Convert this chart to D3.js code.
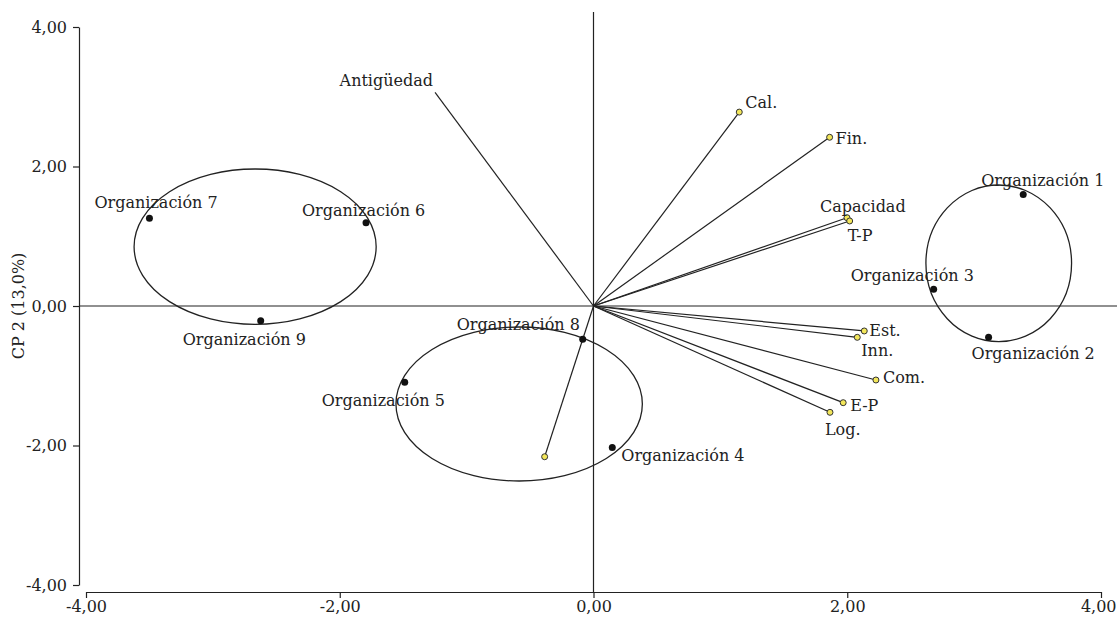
<!DOCTYPE html>
<html>
<head>
<meta charset="utf-8">
<script src="https://cdn.jsdelivr.net/npm/d3@7/dist/d3.min.js"></script>
<style>
  html, body { margin: 0; padding: 0; background: #fff; }
  svg { display: block; }
  text { font-family: "DejaVu Serif", Georgia, serif; fill: #222; }
</style>
</head>
<body>
<svg id="chart" width="1117" height="618"></svg>
<script>
// Biplot: organisations (scores) and variables (loadings) on CP 1 / CP 2

const orgNames = ["Organización 1", "Organización 2", "Organización 3", "Organización 4",
  "Organización 5", "Organización 6", "Organización 7", "Organización 8", "Organización 9"];
const orgX = [3.387, 3.114, 2.681, 0.148, -1.488, -1.793, -3.500, -0.085, -2.623];
const orgY = [1.600, -0.449, 0.239, -2.030, -1.094, 1.194, 1.257, -0.477, -0.211];

const varNames = ["Cal.", "Fin.", "Capacidad", "T-P", "Est.", "Inn.", "Com.", "E-P", "Log.", "", "Antigüedad"];
const varX = [1.149, 1.861, 1.998, 2.019, 2.134, 2.079, 2.226, 1.968, 1.864, -0.385, -1.249];
const varY = [2.780, 2.419, 1.266, 1.219, -0.358, -0.449, -1.061, -1.386, -1.524, -2.161, 3.064];
// variables drawn with an end marker
const varMarked = [true, true, true, true, true, true, true, true, true, true, false];

// group ellipses (centre and semi-axes, in component units)
const groupCx = [3.194, -0.586, -2.667];
const groupCy = [0.612, -1.405, 0.850];
const groupRx = [0.574, 0.971, 0.954];
const groupRy = [1.123, 1.104, 1.114];

const tickValues = [-4, -2, 0, 2, 4];
const tickLabels = ["-4,00", "-2,00", "0,00", "2,00", "4,00"];
const yTitle = "CP 2 (13,0%)";

// label placement relative to each mark (pixels)
const orgLabelPos = [
  [-42, -8], [-17, 22], [-83, -8], [9, 13], [-83, 24],
  [-64, -7], [-55, -10], [-126, -9], [-78, 24]
];
const varLabelPos = [
  [6, -4, "start"], [6, 7, "start"], [-27, -6, "start"], [-2, 20, "start"],
  [5, 5, "start"], [4, 19, "start"], [7, 3, "start"], [7, 8, "start"],
  [-5, 23, "start"], [0, 0, "start"], [-2, -6, "end"]
];

const svg = d3.select("#chart");
const FS = 16;

const x = d3.scaleLinear().domain([-4, 4]).range([86, 1101]);
const y = d3.scaleLinear().domain([-4, 4]).range([585, 27]);
const fmt = v => tickLabels[tickValues.indexOf(v)];

const axisLeftX = 79, axisBottomY = 592;

// reference lines through the origin
svg.append("line")
  .attr("x1", x(0)).attr("x2", x(0))
  .attr("y1", 12).attr("y2", axisBottomY)
  .attr("stroke", "#222").attr("stroke-width", 1.2);
svg.append("line")
  .attr("x1", axisLeftX).attr("x2", 1117)
  .attr("y1", y(0)).attr("y2", y(0))
  .attr("stroke", "#222").attr("stroke-width", 1.2);

// axes
const yAxis = svg.append("g")
  .attr("transform", `translate(${axisLeftX},0)`)
  .call(d3.axisLeft(y).tickValues(tickValues).tickFormat(fmt).tickSize(6).tickSizeOuter(0).tickPadding(6));
const xAxis = svg.append("g")
  .attr("transform", `translate(0,${axisBottomY})`)
  .call(d3.axisBottom(x).tickValues(tickValues).tickFormat(fmt).tickSize(6).tickSizeOuter(0).tickPadding(3));
[yAxis, xAxis].forEach(g => {
  g.selectAll("path, line").attr("stroke", "#222").attr("stroke-width", 1.2);
  g.selectAll("text").attr("font-family", "DejaVu Serif").attr("font-size", FS).attr("fill", "#222");
});
// keep the last x tick label inside the page edge
xAxis.selectAll(".tick").filter(d => d === 4).select("text")
  .attr("text-anchor", "end").attr("dx", 15);

svg.append("text")
  .attr("transform", `translate(24,${y(0)}) rotate(-90)`)
  .attr("text-anchor", "middle")
  .attr("font-size", FS)
  .text(yTitle);

// group ellipses
svg.append("g").selectAll("ellipse")
  .data(groupCx.map((c, i) => i))
  .join("ellipse")
  .attr("cx", i => x(groupCx[i]))
  .attr("cy", i => y(groupCy[i]))
  .attr("rx", i => x(groupRx[i]) - x(0))
  .attr("ry", i => y(0) - y(groupRy[i]))
  .attr("fill", "none")
  .attr("stroke", "#222")
  .attr("stroke-width", 1.3);

// variable vectors
const vIdx = varNames.map((n, i) => i);
svg.append("g").selectAll("line")
  .data(vIdx)
  .join("line")
  .attr("x1", x(0)).attr("y1", y(0))
  .attr("x2", i => x(varX[i])).attr("y2", i => y(varY[i]))
  .attr("stroke", "#222").attr("stroke-width", 1.2);

svg.append("g").selectAll("circle")
  .data(vIdx.filter(i => varMarked[i]))
  .join("circle")
  .attr("cx", i => x(varX[i])).attr("cy", i => y(varY[i]))
  .attr("r", 3)
  .attr("fill", "#f2e65a")
  .attr("stroke", "#333").attr("stroke-width", 1);

svg.append("g").selectAll("text")
  .data(vIdx.filter(i => varNames[i] !== ""))
  .join("text")
  .attr("x", i => x(varX[i]) + varLabelPos[i][0])
  .attr("y", i => y(varY[i]) + varLabelPos[i][1])
  .attr("text-anchor", i => varLabelPos[i][2])
  .attr("font-size", FS)
  .text(i => varNames[i]);

// organisation scores
const oIdx = orgNames.map((n, i) => i);
svg.append("g").selectAll("circle")
  .data(oIdx)
  .join("circle")
  .attr("cx", i => x(orgX[i])).attr("cy", i => y(orgY[i]))
  .attr("r", 3.5)
  .attr("fill", "#111");

svg.append("g").selectAll("text")
  .data(oIdx)
  .join("text")
  .attr("x", i => x(orgX[i]) + orgLabelPos[i][0])
  .attr("y", i => y(orgY[i]) + orgLabelPos[i][1])
  .attr("font-size", FS)
  .text(i => orgNames[i]);
</script>
</body>
</html>
